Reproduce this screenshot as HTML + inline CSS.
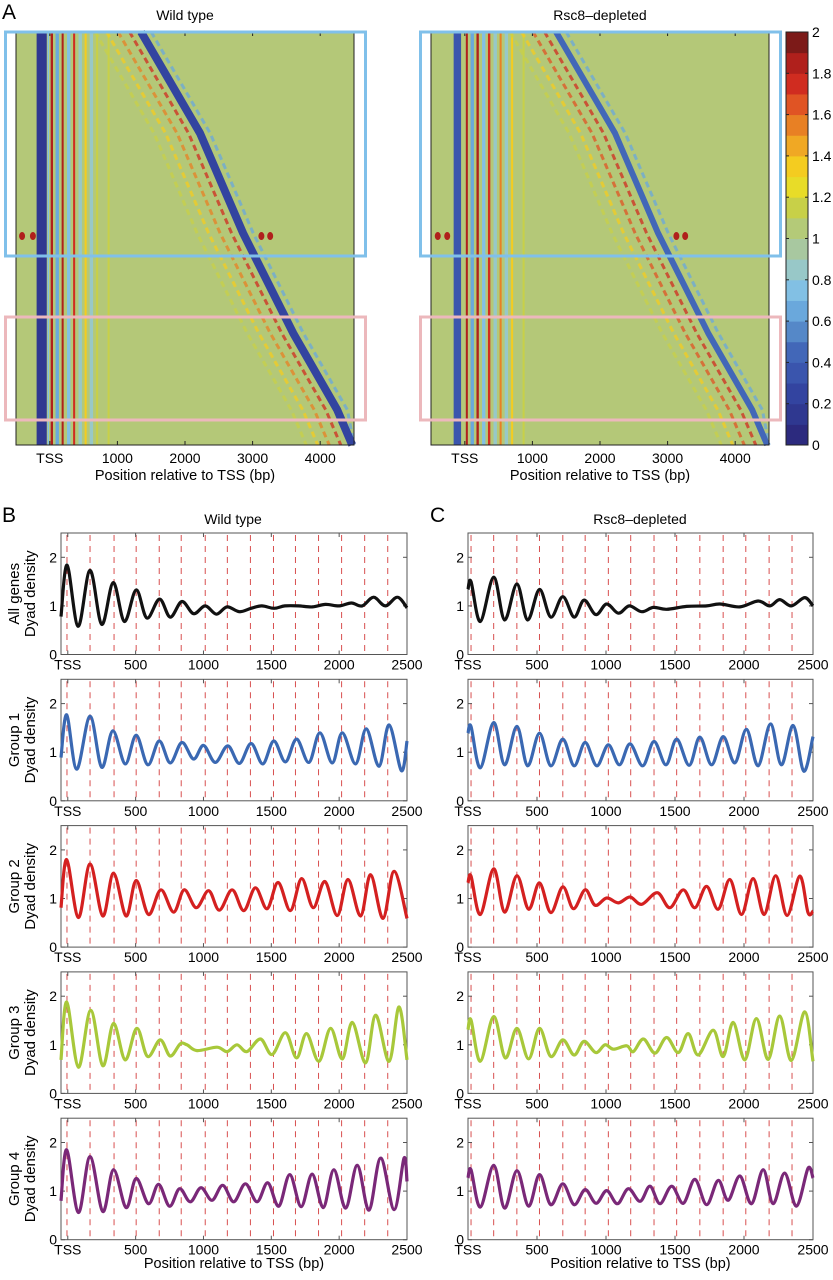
<!DOCTYPE html>
<html><head><meta charset="utf-8"><style>
html,body{margin:0;padding:0;background:#fff;}
svg{display:block;font-family:"Liberation Sans",Arial,sans-serif;}
</style></head><body>
<svg id="fig" xmlns="http://www.w3.org/2000/svg" width="833" height="1280" viewBox="0 0 833 1280">
<text x="2" y="19" font-size="21">A</text>
<text x="185" y="20" font-size="14" text-anchor="middle">Wild type</text>
<text x="600" y="20" font-size="14" text-anchor="middle">Rsc8–depleted</text>
<text x="2" y="522" font-size="21">B</text>
<text x="233" y="524" font-size="14" text-anchor="middle">Wild type</text>
<text x="430" y="522" font-size="21">C</text>
<text x="640" y="524" font-size="14" text-anchor="middle">Rsc8–depleted</text>
</svg>
<script>
// ---------- heatmap data ----------
const cmapColors=['#2c2a7e','#2f3890','#3344a0','#3a55ad','#4267b8','#5588c8','#6aa8dc','#82c0e4','#98c8c8','#a8c8a0','#b4ca78','#c8d048','#e8dc28','#f4cc20','#f0a824','#e88024','#e05424','#d02c20','#b0201c','#7c1a18'];
const cbarTicks=[0,0.2,0.4,0.6,0.8,1,1.2,1.4,1.6,1.8,2];
const hmTicks=[0,1000,2000,3000,4000];
const hmTickLabels=['TSS','1000','2000','3000','4000'];
const wtStripeBp=[-120,-22,30,110,190,280,360,450,530,615,700,870];
const wtStripeW=[150,20,35,50,30,50,30,50,30,50,30,30];
const wtStripeVal=[0.15,0.75,1.9,0.7,1.85,0.75,1.7,0.8,1.3,0.85,1.2,1.12];
const rsStripeBp=[-110,30,110,190,280,360,450,530,615,700,870];
const rsStripeW=[110,30,50,35,50,35,50,30,50,30,30];
const rsStripeVal=[0.35,1.8,0.7,1.85,0.75,1.75,0.8,1.5,0.85,1.3,1.2];
const geneRowFrac=[0,0.245,0.487,0.729,0.915,1];
const geneEndBp=[1350,2222,2859,3600,4252,4474];
const wtBandVal=0.2, rsBandVal=0.45;
const wtParOff=[-170,-340,-510,-680,150];
const wtParVal=[1.75,1.5,1.3,1.2,0.7];
const rsParOff=[-170,-340,-510,-680,150];
const rsParVal=[1.7,1.6,1.4,1.2,0.7];
const wtDotBp=[-410,-250,3130,3260];
const rsDotBp=[-400,-260,3130,3260];
const dotRowFrac=0.494;

// ---------- profile data ----------
const wtDashBp=[-6,164,341,504,674,836,1013,1176,1346,1516,1678,1848,2018,2188,2358];
const rsDashBp=[22,186,354,518,687,849,1017,1179,1348,1512,1680,1849,2013,2182,2348];
const xTicks=[0,500,1000,1500,2000,2500];
const xTickLabels=['TSS','500','1000','1500','2000','2500'];
const yTicks=[0,1,2];
const wtAllX=[-50,-5,76,164,250,335,417,504,583,676,755,841,927,1013,1095,1174,1265,1350,1430,1520,1600,1700,1800,1900,2000,2090,2170,2254,2340,2430,2500];
const wtAllY=[0.78,1.84,0.58,1.73,0.62,1.48,0.68,1.33,0.75,1.14,0.77,1.09,0.84,1.0,0.83,0.98,0.88,0.95,1.0,0.95,1.0,1.0,0.98,1.03,1.0,1.06,1.0,1.18,1.0,1.18,0.96];
const wtG1X=[-50,-8,66,164,250,332,423,504,590,674,755,841,927,1001,1087,1179,1265,1351,1437,1518,1604,1686,1777,1858,1949,2023,2121,2200,2294,2368,2459,2500];
const wtG1Y=[0.89,1.77,0.65,1.74,0.69,1.44,0.76,1.35,0.74,1.23,0.78,1.2,0.86,1.14,0.79,1.13,0.77,1.18,0.76,1.23,0.8,1.27,0.79,1.4,0.78,1.4,0.76,1.48,0.71,1.56,0.62,1.23];
const wtG2X=[-50,-8,78,164,258,337,430,504,595,686,780,858,947,1038,1117,1211,1297,1383,1469,1550,1641,1723,1809,1895,1986,2065,2158,2232,2323,2405,2500];
const wtG2Y=[0.81,1.80,0.61,1.71,0.64,1.52,0.64,1.37,0.67,1.18,0.72,1.18,0.81,1.16,0.76,1.18,0.75,1.22,0.79,1.33,0.75,1.41,0.81,1.35,0.65,1.39,0.64,1.49,0.59,1.56,0.59];
const wtG3X=[-50,-8,78,169,258,337,423,509,588,681,755,829,878,952,1100,1174,1247,1321,1420,1506,1604,1686,1760,1851,1937,2023,2097,2195,2269,2368,2441,2500];
const wtG3Y=[0.69,1.88,0.54,1.71,0.57,1.44,0.69,1.34,0.76,1.1,0.77,1.02,1.0,0.88,0.95,0.86,1.0,0.86,1.12,0.8,1.25,0.73,1.23,0.66,1.34,0.71,1.46,0.63,1.61,0.66,1.78,0.69];
const wtG4X=[-50,-8,78,164,258,337,430,504,595,669,750,824,903,982,1063,1142,1223,1309,1395,1474,1555,1636,1720,1801,1883,1961,2048,2134,2220,2306,2405,2478,2500];
const wtG4Y=[0.8,1.85,0.56,1.71,0.58,1.44,0.66,1.26,0.74,1.14,0.69,1.05,0.78,1.07,0.81,1.12,0.78,1.15,0.78,1.17,0.69,1.34,0.68,1.35,0.66,1.44,0.65,1.53,0.61,1.68,0.62,1.68,1.2];
const rsAllX=[0,22,89,186,265,354,432,518,600,687,769,841,926,1005,1090,1169,1259,1343,1439,1584,1729,1825,1970,2102,2187,2259,2343,2440,2500];
const rsAllY=[1.34,1.5,0.68,1.59,0.71,1.45,0.71,1.34,0.77,1.19,0.77,1.12,0.82,1.04,0.85,1.0,0.88,0.97,0.93,0.99,1.0,1.04,0.98,1.1,1.0,1.13,1.0,1.17,1.0];
const rsG1X=[0,22,89,186,265,354,432,518,600,687,769,849,933,1017,1097,1174,1266,1348,1435,1512,1603,1680,1765,1849,1934,2018,2102,2192,2271,2356,2433,2500];
const rsG1Y=[1.39,1.53,0.68,1.61,0.74,1.53,0.72,1.39,0.72,1.27,0.72,1.2,0.72,1.15,0.74,1.17,0.72,1.22,0.74,1.27,0.73,1.31,0.74,1.32,0.78,1.47,0.72,1.58,0.74,1.55,0.61,1.32];
const rsG2X=[0,22,89,186,265,354,439,518,600,687,764,849,921,1005,1090,1174,1259,1372,1463,1560,1644,1729,1813,1898,1982,2066,2146,2230,2312,2404,2464,2500];
const rsG2Y=[1.32,1.46,0.67,1.61,0.72,1.47,0.78,1.32,0.71,1.24,0.79,1.18,0.86,1.01,0.91,1.03,0.88,1.12,0.81,1.18,0.81,1.25,0.78,1.39,0.67,1.41,0.67,1.47,0.65,1.46,0.71,0.74];
const rsG3X=[0,22,89,186,270,354,439,518,600,687,769,841,926,993,1054,1150,1198,1271,1355,1439,1524,1596,1668,1777,1849,1922,2006,2090,2175,2259,2343,2440,2500];
const rsG3Y=[1.31,1.51,0.66,1.58,0.73,1.34,0.71,1.34,0.76,1.1,0.79,1.07,0.84,1.0,0.91,0.98,0.86,1.12,0.83,1.15,0.84,1.23,0.79,1.3,0.76,1.46,0.69,1.54,0.7,1.59,0.68,1.68,0.66];
const rsG4X=[0,22,89,186,265,354,439,518,600,687,769,849,928,1005,1083,1162,1247,1319,1391,1476,1560,1644,1729,1813,1885,1970,2054,2139,2211,2295,2380,2464,2500];
const rsG4Y=[1.27,1.44,0.67,1.53,0.65,1.42,0.69,1.34,0.72,1.15,0.72,1.03,0.75,1.01,0.74,1.05,0.79,1.1,0.74,1.1,0.75,1.24,0.72,1.22,0.81,1.31,0.74,1.44,0.74,1.37,0.69,1.47,1.27];
const groupNames=['All genes','Group 1','Group 2','Group 3','Group 4'];
const lineColors=['#111111','#3a68b2','#d42020','#a8c83a','#7a2878'];

const NS='http://www.w3.org/2000/svg';
const svg=document.getElementById('fig');
function el(tag,attrs,parent){const e=document.createElementNS(NS,tag);for(const k in attrs)e.setAttribute(k,attrs[k]);(parent||svg).appendChild(e);return e;}
function cmap(v){let i=Math.floor(v/0.1);if(i<0)i=0;if(i>19)i=19;return cmapColors[i];}

// ---------- heatmaps ----------
function heatmap(ox,name,sBp,sW,sVal,bandVal,parOff,parVal,dotBp,bandW){
  const x0=ox+16,x1=ox+354,y0=32,y1=445;
  const xs=bp=>x0+(bp+500)/5000*(x1-x0);
  const ys=f=>y0+f*(y1-y0);
  const g=el('g',{});
  
  
  const bg=el('rect',{x:x0,y:y0,width:x1-x0,height:y1-y0,fill:'#b4c878'},g);
  
  
  for(let i=0;i<sBp.length;i++){
    const w=sW[i]/5000*(x1-x0);
    const r=el('rect',{x:xs(sBp[i])-w/2,y:y0,width:w,height:y1-y0,fill:cmap(sVal[i])},g);
    
    
  }
  const pts=(off)=>geneRowFrac.map((f,i)=>Math.max(x0,Math.min(x1,xs(geneEndBp[i]+off)))+','+ys(f)).join(' ');
  for(let i=0;i<parOff.length;i++){
    const p=el('polyline',{points:pts(parOff[i]),fill:'none',stroke:cmap(parVal[i]),'stroke-width':3,'stroke-dasharray':'6 4',opacity:0.75,'stroke-linejoin':'round'},g);
    
    
  }
  const band=el('polyline',{points:pts(0),fill:'none',stroke:cmap(bandVal),'stroke-width':bandW,'stroke-linejoin':'round'},g);
  
  
  for(let i=0;i<dotBp.length;i++){
    const c=el('ellipse',{cx:xs(dotBp[i]),cy:ys(dotRowFrac),rx:3,ry:4,fill:cmap(1.9)},g);
    
    
  }
  const fr=el('rect',{x:x0,y:y0,width:x1-x0,height:y1-y0,fill:'none',stroke:'#222','stroke-width':1},g);
  
  
  hmTicks.forEach((t,i)=>{
    el('line',{x1:xs(t),x2:xs(t),y1:y1,y2:y1-4,stroke:'#222'},g);
    el('line',{x1:xs(t),x2:xs(t),y1:y0,y2:y0+4,stroke:'#222'},g);
    const tx=el('text',{x:xs(t),y:463,'font-size':14,'text-anchor':'middle'},g);
    tx.textContent=hmTickLabels[i];
    
    
  });
  const xl=el('text',{x:(x0+x1)/2,y:480,'font-size':14.5,'text-anchor':'middle'},g);
  xl.textContent='Position relative to TSS (bp)';
  
  
  const b1=el('rect',{x:ox+5.5,y:32,width:360,height:224,fill:'none',stroke:'#80c0ea','stroke-width':3},g);
  
  
  const b2=el('rect',{x:ox+5.5,y:317,width:360,height:103,fill:'none',stroke:'#ecb8bc','stroke-width':3},g);
  
  
}
heatmap(0,'heatmap-wild-type',wtStripeBp,wtStripeW,wtStripeVal,wtBandVal,wtParOff,wtParVal,wtDotBp,8);
heatmap(415,'heatmap-rsc8-depleted',rsStripeBp,rsStripeW,rsStripeVal,rsBandVal,rsParOff,rsParVal,rsDotBp,6);

// colorbar
(function(){
  const cx=786,cw=22,cy0=32,cy1=445;
  const g=el('g',{});
  
  
  const h=(cy1-cy0)/cmapColors.length;
  cmapColors.forEach((c,i)=>{el('rect',{x:cx,y:cy1-(i+1)*h,width:cw,height:h+0.5,fill:c},g);});
  el('rect',{x:cx,y:cy0,width:cw,height:cy1-cy0,fill:'none',stroke:'#222'},g);
  cbarTicks.forEach(t=>{
    const y=cy1-t/2*(cy1-cy0);
    el('line',{x1:cx+cw,x2:cx+cw-3,y1:y,y2:y,stroke:'#222'},g);
    el('line',{x1:cx,x2:cx+3,y1:y,y2:y,stroke:'#222'},g);
    const tx=el('text',{x:cx+cw+4,y:y+5,'font-size':14},g);
    tx.textContent=String(t);
    
    
  });
})();

// ---------- profiles ----------
function smoothPath(px,py){
  let d='M'+px[0]+','+py[0];
  for(let i=0;i<px.length-1;i++){
    const p0x=px[Math.max(0,i-1)],p0y=py[Math.max(0,i-1)],p3x=px[Math.min(px.length-1,i+2)],p3y=py[Math.min(px.length-1,i+2)];
    const c1x=px[i]+(px[i+1]-p0x)/6,c1y=py[i]+(py[i+1]-p0y)/6;
    const c2x=px[i+1]-(p3x-px[i])/6,c2y=py[i+1]-(p3y-py[i])/6;
    d+=' C'+c1x.toFixed(1)+','+c1y.toFixed(1)+' '+c2x.toFixed(1)+','+c2y.toFixed(1)+' '+px[i+1].toFixed(1)+','+py[i+1].toFixed(1);
  }
  return d;
}
function profile(col,row,X,Y){
  const x0=col?468:61,x1=col?813:407,xmin=col?0:-50,xmax=2500;
  const y0=533+146.3*row,y1=y0+121.5;
  const xs=v=>x0+(v-xmin)/(xmax-xmin)*(x1-x0);
  const ys=v=>y1-v/2.5*(y1-y0);
  const g=el('g',{});
  
  
  (col?rsDashBp:wtDashBp).forEach(b=>{
    const l=el('line',{x1:xs(b),x2:xs(b),y1:y0+2,y2:y1,stroke:'#d85050','stroke-width':1,'stroke-dasharray':'6 5'},g);
    
    
  });
  const fr=el('rect',{x:x0,y:y0,width:x1-x0,height:y1-y0,fill:'none',stroke:'#555','stroke-width':1},g);
  
  
  xTicks.forEach((t,i)=>{
    el('line',{x1:xs(t),x2:xs(t),y1:y1,y2:y1-4,stroke:'#555'},g);
    el('line',{x1:xs(t),x2:xs(t),y1:y0,y2:y0+4,stroke:'#555'},g);
    const tx=el('text',{x:xs(t),y:y1+15,'font-size':14,'text-anchor':'middle'},g);
    tx.textContent=xTickLabels[i];
    
    
  });
  yTicks.forEach(t=>{
    el('line',{x1:x0,x2:x0+4,y1:ys(t),y2:ys(t),stroke:'#555'},g);
    el('line',{x1:x1,x2:x1-4,y1:ys(t),y2:ys(t),stroke:'#555'},g);
    const tx=el('text',{x:x0-4,y:ys(t)+5,'font-size':14,'text-anchor':'end'},g);
    tx.textContent=String(t);
    
    
  });
  const p=el('path',{d:smoothPath(X.map(xs),Y.map(ys)),fill:'none',stroke:lineColors[row],'stroke-width':3.2,'stroke-linejoin':'round'},g);
  
  
  if(!col){
    const cy=(y0+y1)/2;
    const t1=el('text',{x:19,y:cy,'font-size':15,'text-anchor':'middle',transform:'rotate(-90 19 '+cy+')'},g);
    t1.textContent=groupNames[row];
    
    
    const t2=el('text',{x:35,y:cy,'font-size':15,'text-anchor':'middle',transform:'rotate(-90 35 '+cy+')'},g);
    t2.textContent='Dyad density';
    
    
  }
  if(row===4){
    const xl=el('text',{x:(x0+x1)/2,y:1268,'font-size':14.5,'text-anchor':'middle'},g);
    xl.textContent='Position relative to TSS (bp)';
    
    
  }
}
const wtX=[wtAllX,wtG1X,wtG2X,wtG3X,wtG4X],wtY=[wtAllY,wtG1Y,wtG2Y,wtG3Y,wtG4Y];
const rsX=[rsAllX,rsG1X,rsG2X,rsG3X,rsG4X],rsY=[rsAllY,rsG1Y,rsG2Y,rsG3Y,rsG4Y];
for(let r=0;r<5;r++){profile(0,r,wtX[r],wtY[r]);profile(1,r,rsX[r],rsY[r]);}
</script>
</body></html>
